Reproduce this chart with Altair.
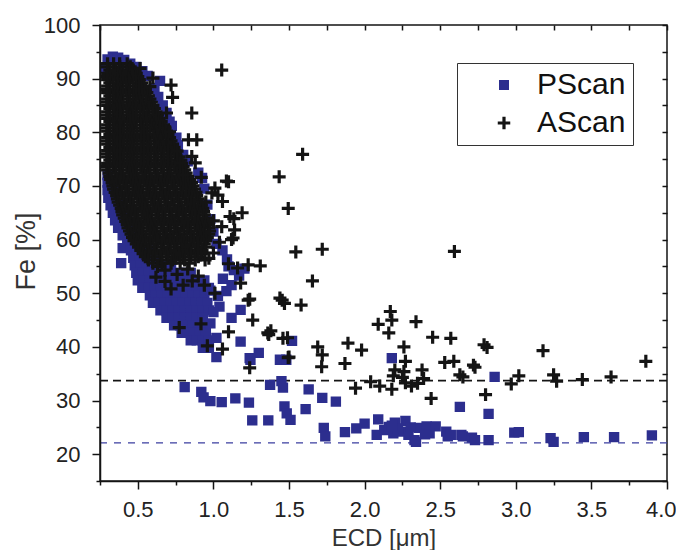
import altair as alt
import pandas as pd

BLUE = "#2c2e8e"
BLACK = "#141414"
FONT = "Liberation Sans"

series_names = ["PScan", "AScan"]

x_tick_values = [0.25, 0.5, 0.75, 1.0, 1.25, 1.5, 1.75, 2.0, 2.25, 2.5, 2.75, 3.0, 3.25, 3.5, 3.75, 4.0]
y_tick_values = [15, 20, 25, 30, 35, 40, 45, 50, 55, 60, 65, 70, 75, 80, 85, 90, 95, 100]

black_dash_level = [33.7]
blue_dash_level = [22.1]

# PScan dense band (Fe, [ECD...]) read row by row from the blue region
pscan_band_rows = [
    (72.0, [0.300]),
    (70.6, [0.300, 0.325]),
    (69.2, [0.300, 0.335]),
    (67.8, [0.305, 0.345]),
    (66.4, [0.32, 0.36, 0.39]),
    (65.0, [0.335, 0.375, 0.41]),
    (63.6, [0.35, 0.39, 0.43]),
    (62.2, [0.37, 0.41, 0.45]),
    (60.8, [0.40, 0.44, 0.48]),
    (59.4, [0.43, 0.47, 0.51]),
    (58.4, [0.40]),
    (58.0, [0.455, 0.495, 0.535, 0.575]),
    (56.6, [0.47, 0.51, 0.55, 0.59, 0.63]),
    (55.6, [0.39]),
    (55.2, [0.48, 0.52, 0.56, 0.60, 0.64, 0.68, 0.72]),
    (53.8, [0.49, 0.53, 0.57, 0.61, 0.65, 0.69, 0.73, 0.77, 0.81, 0.85]),
    (52.4, [0.50, 0.54, 0.58, 0.62, 0.66, 0.70, 0.74, 0.78, 0.82, 0.86, 0.90, 0.94]),
    (51.0, [0.53, 0.57, 0.61, 0.65, 0.69, 0.73, 0.77, 0.81, 0.85, 0.89, 0.93, 0.97]),
    (49.6, [0.58, 0.62, 0.66, 0.70, 0.74, 0.78, 0.82, 0.86, 0.90, 0.94]),
    (48.2, [0.60, 0.64, 0.68, 0.72, 0.76, 0.80, 0.84, 0.88, 0.92, 0.96]),
    (46.8, [0.65, 0.69, 0.73, 0.77, 0.81, 0.85, 0.89, 0.93, 0.97]),
    (45.4, [0.69, 0.73, 0.77, 0.81, 0.85, 0.89, 0.93]),
    (44.0, [0.74, 0.78, 0.82, 0.86, 0.90, 0.94]),
    (42.6, [0.79, 0.83, 0.87, 0.91, 0.95]),
    (41.2, [0.85, 0.89, 0.93, 0.97]),
    (39.8, [0.93, 0.97]),
]

# PScan individual squares (ECD, Fe)
pscan_points = [
    (0.30, 93.6), (0.335, 94.1), (0.37, 93.9), (0.41, 93.5), (0.45, 92.8), (0.49, 92.2),
    (0.29, 92.0),
    (0.53, 91.4), (0.565, 90.5), (0.647, 89.6), (0.61, 88.3), (0.635, 86.6), (0.665, 85.0),
    (0.69, 83.6), (0.71, 82.0), (0.725, 81.2), (0.755, 79.0), (0.765, 77.6), (0.80, 75.8),
    (0.83, 74.6), (0.90, 72.5), (0.925, 71.5), (0.94, 69.5), (0.96, 66.5), (0.98, 63.8),
    (1.0, 61.5), (1.02, 59.2), (1.06, 58.0), (1.09, 56.3), (1.10, 55.0), (1.135, 54.3),
    (1.205, 54.6), (1.17, 53.3), (1.063, 52.7), (1.12, 51.5), (1.086, 50.4), (1.04, 47.5),
    (1.12, 45.4), (1.18, 46.9), (0.98, 44.4), (1.02, 41.7), (1.18, 41.0), (1.30, 38.9),
    (1.24, 37.9), (1.44, 37.6), (1.52, 41.1), (1.02, 38.1), (1.00, 46.5), (1.03, 49.5),
    (0.98, 50.5),
    (0.81, 32.5), (0.92, 31.6), (0.935, 30.6), (0.98, 29.9), (1.055, 29.7), (1.145, 30.4),
    (1.235, 29.6), (1.257, 26.3), (1.363, 26.3), (1.375, 32.9), (1.45, 33.6), (1.46, 32.4),
    (1.47, 28.9), (1.485, 27.6), (1.51, 26.4), (1.61, 28.4), (1.63, 32.1), (1.72, 30.5),
    (1.81, 29.8), (1.482, 37.6), (1.245, 37.6), (2.18, 37.9), (2.86, 34.4), (2.82, 27.5),
    (2.63, 28.8),
    (1.73, 24.9), (1.74, 23.3), (1.87, 24.1), (1.945, 24.8), (2.0, 25.7), (2.09, 26.5),
    (2.08, 23.6), (2.13, 24.5), (2.16, 25.1), (2.20, 25.9), (2.27, 26.2), (2.24, 24.2),
    (2.19, 23.9), (2.29, 23.6), (2.33, 22.6), (2.34, 22.3), (2.36, 24.9), (2.41, 25.2),
    (2.47, 25.2), (2.43, 23.9), (2.40, 23.7), (2.54, 24.2), (2.55, 23.3), (2.57, 23.6),
    (2.64, 23.6), (2.65, 23.3), (2.71, 23.1), (2.73, 22.6), (2.82, 22.6), (2.99, 24.0),
    (3.02, 24.1), (3.23, 23.0), (3.25, 22.3), (3.45, 23.2), (3.65, 23.2), (3.90, 23.5),
    (2.22, 24.8), (2.305, 25.0), (2.18, 25.3),
]

# AScan dense cloud (Fe, [ECD...]) read row by row from the black region
ascan_cloud_rows = [
    (92.8, [0.30, 0.34, 0.38, 0.43]),
    (92.2, [0.30, 0.38, 0.45]),
    (91.6, [0.315, 0.355, 0.40, 0.44, 0.47]),
    (91.0, [0.30, 0.37, 0.43, 0.49]),
    (90.4, [0.295, 0.335, 0.38, 0.42, 0.465, 0.50]),
    (89.8, [0.30, 0.37, 0.44, 0.51]),
    (89.2, [0.315, 0.36, 0.40, 0.445, 0.49, 0.525]),
    (88.6, [0.30, 0.37, 0.44, 0.51, 0.54]),
    (88.0, [0.295, 0.34, 0.38, 0.425, 0.47, 0.51, 0.55]),
    (87.4, [0.30, 0.37, 0.44, 0.51, 0.56]),
    (86.8, [0.315, 0.36, 0.40, 0.445, 0.49, 0.53, 0.57]),
    (86.2, [0.30, 0.37, 0.44, 0.51, 0.58]),
    (85.6, [0.295, 0.34, 0.385, 0.43, 0.47, 0.515, 0.555, 0.59]),
    (85.0, [0.30, 0.375, 0.45, 0.525, 0.60]),
    (84.4, [0.315, 0.36, 0.40, 0.445, 0.49, 0.535, 0.575, 0.61]),
    (83.8, [0.30, 0.38, 0.46, 0.54, 0.62]),
    (83.2, [0.295, 0.34, 0.385, 0.43, 0.47, 0.515, 0.56, 0.60, 0.63]),
    (82.6, [0.30, 0.385, 0.47, 0.555, 0.64]),
    (82.0, [0.315, 0.36, 0.405, 0.45, 0.49, 0.535, 0.58, 0.62, 0.655]),
    (81.4, [0.30, 0.375, 0.45, 0.52, 0.595, 0.67]),
    (80.8, [0.295, 0.34, 0.385, 0.43, 0.475, 0.52, 0.56, 0.605, 0.645, 0.68]),
    (80.2, [0.30, 0.38, 0.46, 0.54, 0.62, 0.69]),
    (79.6, [0.315, 0.36, 0.405, 0.45, 0.495, 0.54, 0.58, 0.625, 0.665, 0.70]),
    (79.0, [0.30, 0.38, 0.46, 0.54, 0.63, 0.71]),
    (78.4, [0.295, 0.34, 0.385, 0.43, 0.475, 0.52, 0.565, 0.61, 0.65, 0.69, 0.72]),
    (77.8, [0.30, 0.38, 0.46, 0.54, 0.62, 0.70, 0.73]),
    (77.2, [0.315, 0.36, 0.405, 0.45, 0.495, 0.54, 0.585, 0.63, 0.67, 0.71, 0.74]),
    (76.6, [0.30, 0.38, 0.46, 0.54, 0.62, 0.70, 0.745]),
    (76.0, [0.295, 0.34, 0.385, 0.43, 0.475, 0.52, 0.565, 0.61, 0.655, 0.70, 0.75]),
    (75.4, [0.30, 0.38, 0.46, 0.54, 0.62, 0.70, 0.77]),
    (74.8, [0.315, 0.36, 0.405, 0.45, 0.495, 0.54, 0.585, 0.63, 0.675, 0.72, 0.76, 0.785]),
    (74.2, [0.30, 0.38, 0.46, 0.54, 0.62, 0.70, 0.76, 0.79]),
    (73.6, [0.295, 0.34, 0.385, 0.43, 0.475, 0.52, 0.565, 0.61, 0.655, 0.70, 0.745, 0.80]),
    (73.0, [0.30, 0.38, 0.46, 0.54, 0.62, 0.70, 0.77, 0.81]),
    (72.4, [0.31, 0.355, 0.40, 0.445, 0.49, 0.535, 0.58, 0.625, 0.67, 0.715, 0.76, 0.82]),
    (71.8, [0.315, 0.39, 0.47, 0.55, 0.63, 0.71, 0.78, 0.83]),
    (71.2, [0.32, 0.365, 0.41, 0.455, 0.50, 0.545, 0.59, 0.635, 0.68, 0.725, 0.77, 0.81, 0.845]),
    (70.6, [0.33, 0.41, 0.49, 0.57, 0.65, 0.73, 0.80, 0.855]),
    (70.0, [0.335, 0.38, 0.425, 0.47, 0.515, 0.56, 0.605, 0.65, 0.695, 0.74, 0.785, 0.83, 0.865]),
    (69.4, [0.34, 0.42, 0.50, 0.58, 0.66, 0.74, 0.82, 0.875]),
    (68.8, [0.35, 0.395, 0.44, 0.485, 0.53, 0.575, 0.62, 0.665, 0.71, 0.755, 0.80, 0.845, 0.885]),
    (68.2, [0.36, 0.44, 0.52, 0.60, 0.68, 0.76, 0.84, 0.89]),
    (67.6, [0.365, 0.41, 0.455, 0.50, 0.545, 0.59, 0.635, 0.68, 0.725, 0.77, 0.815, 0.86, 0.90]),
    (67.0, [0.37, 0.45, 0.53, 0.61, 0.69, 0.77, 0.85, 0.91]),
    (66.4, [0.38, 0.425, 0.47, 0.515, 0.56, 0.605, 0.65, 0.695, 0.74, 0.785, 0.83, 0.875, 0.92]),
    (65.8, [0.39, 0.47, 0.55, 0.63, 0.71, 0.79, 0.87, 0.93]),
    (65.2, [0.395, 0.44, 0.485, 0.53, 0.575, 0.62, 0.665, 0.71, 0.755, 0.80, 0.845, 0.89, 0.935]),
    (64.6, [0.40, 0.48, 0.56, 0.64, 0.72, 0.80, 0.88, 0.94]),
    (64.0, [0.41, 0.455, 0.50, 0.545, 0.59, 0.635, 0.68, 0.725, 0.77, 0.815, 0.86, 0.905, 0.95]),
    (63.4, [0.42, 0.50, 0.58, 0.66, 0.74, 0.82, 0.90, 0.955]),
    (62.8, [0.43, 0.475, 0.52, 0.565, 0.61, 0.655, 0.70, 0.745, 0.79, 0.835, 0.88, 0.925, 0.965]),
    (62.2, [0.435, 0.51, 0.59, 0.67, 0.75, 0.83, 0.91, 0.97]),
    (61.6, [0.445, 0.49, 0.535, 0.58, 0.625, 0.67, 0.715, 0.76, 0.805, 0.85, 0.895, 0.94, 0.975]),
    (61.0, [0.455, 0.53, 0.61, 0.69, 0.77, 0.85, 0.93, 0.97]),
    (60.4, [0.465, 0.51, 0.555, 0.60, 0.645, 0.69, 0.735, 0.78, 0.825, 0.87, 0.915, 0.96]),
    (59.8, [0.475, 0.55, 0.63, 0.71, 0.79, 0.87, 0.95]),
    (59.2, [0.49, 0.535, 0.58, 0.625, 0.67, 0.715, 0.76, 0.805, 0.85, 0.895, 0.94]),
    (58.6, [0.505, 0.58, 0.66, 0.74, 0.82, 0.90, 0.95]),
    (58.0, [0.52, 0.565, 0.61, 0.655, 0.70, 0.745, 0.79, 0.835, 0.88, 0.925]),
    (57.4, [0.535, 0.61, 0.69, 0.77, 0.85, 0.92]),
    (56.8, [0.55, 0.60, 0.65, 0.70, 0.75, 0.80, 0.85, 0.90]),
    (56.2, [0.57, 0.65, 0.73, 0.81, 0.88]),
    (55.6, [0.60, 0.66, 0.72, 0.78, 0.84]),
]

# AScan individual crosses (ECD, Fe)
ascan_points = [
    (0.515, 91.9), (0.60, 90.1), (0.58, 88.5), (0.72, 88.8), (0.73, 86.5), (0.857, 83.6),
    (0.835, 78.6), (0.89, 78.6), (1.055, 91.6), (0.69, 83.6), (0.71, 80.1), (0.78, 74.3),
    (0.857, 75.5), (0.88, 74.3), (0.76, 76.5), (0.80, 72.0), (0.92, 71.6), (1.10, 70.8),
    (1.01, 69.6), (1.03, 68.3), (1.06, 67.1), (0.99, 68.7), (0.95, 67.0), (1.19, 65.0),
    (1.11, 64.3), (1.14, 61.8), (1.12, 60.0), (1.055, 62.4), (1.00, 63.5), (1.04, 59.5),
    (1.0, 57.5), (0.97, 56.5), (0.945, 56.2), (1.23, 55.3), (1.16, 54.7), (1.31, 55.1),
    (1.10, 55.5), (0.63, 55.0), (0.68, 54.3), (0.62, 53.0), (0.68, 52.2), (0.76, 53.5),
    (0.80, 51.5), (0.86, 52.3), (0.90, 53.2), (0.94, 51.5), (0.72, 50.8), (0.83, 54.5),
    (1.01, 50.0), (1.18, 51.9), (1.23, 48.7), (1.26, 45.0), (1.36, 42.6), (0.774, 43.6),
    (0.918, 44.3), (0.96, 40.2), (1.06, 39.6), (1.10, 42.8), (1.24, 36.1), (1.455, 48.7),
    (1.49, 41.7), (1.495, 38.0), (1.435, 71.7), (1.59, 75.9), (1.495, 65.8), (1.545, 57.7),
    (1.72, 58.2), (1.655, 52.3), (1.44, 49.1), (1.47, 48.1), (1.58, 47.8), (1.24, 48.9),
    (1.38, 43.0), (1.366, 42.3), (1.46, 41.6), (1.50, 38.1), (1.69, 40.0), (1.72, 38.5),
    (1.716, 36.3), (1.89, 40.7), (1.98, 39.4), (1.87, 36.9), (2.17, 46.6), (2.18, 45.0),
    (2.09, 44.2), (2.16, 42.6), (2.34, 44.7), (2.26, 40.0), (2.45, 41.8), (2.57, 41.6),
    (2.27, 37.3), (2.20, 35.7), (2.19, 34.6), (2.26, 35.4), (2.38, 35.7), (2.39, 34.1),
    (2.63, 34.8), (2.53, 37.1), (2.59, 37.3), (2.72, 36.6), (1.94, 32.3), (2.04, 33.5),
    (2.10, 32.7), (2.18, 32.1), (2.27, 33.3), (2.31, 32.7), (2.35, 33.2), (2.44, 30.4),
    (2.79, 40.4), (2.81, 39.9), (2.80, 31.1), (2.594, 57.8), (3.18, 39.3), (3.86, 37.3),
    (3.02, 34.6), (2.97, 33.1), (3.25, 34.8), (3.27, 33.6), (3.44, 33.9), (3.63, 34.4),
    (2.65, 34.4), (2.73, 36.2), (2.25, 34.3), (1.086, 70.9), (1.135, 63.9), (1.13, 60.3),
]

rows = []
for fe, xs in pscan_band_rows:
    for x in xs:
        rows.append(("PScan", x, fe))
for x, fe in pscan_points:
    rows.append(("PScan", x, fe))
for fe, xs in ascan_cloud_rows:
    for x in xs:
        rows.append(("AScan", x, fe))
for x, fe in ascan_points:
    rows.append(("AScan", x, fe))
df = pd.DataFrame(rows, columns=["series", "ecd", "fe"])

x_scale = alt.Scale(domain=[0.25, 4.0], nice=False, zero=False)
y_scale = alt.Scale(domain=[15, 100], nice=False, zero=False)

STROKE_W = 3.2
SQUARE_PATH = "M-1,-0.68H1M-1,-0.34H1M-1,0H1M-1,0.34H1M-1,0.68H1"
CROSS_PATH = "M-1.25,0H1.25M0,-1.25V1.25"

legend = alt.Legend(
    title=None, orient="none", legendX=357, legendY=38,
    strokeColor="#333333", fillColor="white", padding=7, rowPadding=8,
    symbolOffset=25, labelOffset=18, labelFont=FONT, labelFontSize=30,
    labelColor="#111111", symbolSize=100, symbolStrokeWidth=STROKE_W,
)

x_axis_main = alt.Axis(
    orient="bottom", values=x_tick_values, format=".1f",
    labelExpr="datum.value % 0.5 === 0 ? datum.label : ''",
    tickSize={"condition": {"test": "datum.value % 0.5 === 0", "value": 8}, "value": 4},
    labelFlush=True, labelFlushOffset=9, labelFontSize=22, labelPadding=10, grid=False,
    title="ECD [μm]", titleFontSize=24, titleY=64, titleBaseline="alphabetic", zindex=1,
)
y_axis_main = alt.Axis(
    orient="left", values=y_tick_values,
    labelExpr="datum.value % 10 === 0 ? datum.label : ''",
    tickSize={"condition": {"test": "datum.value % 10 === 0", "value": 8}, "value": 4},
    labelFontSize=22, labelPadding=12, grid=False,
    title="Fe [%]", titleFontSize=27, titleX=-66, titleY=226, titleAngle=270,
    titleAlign="center", titleBaseline="alphabetic", zindex=1,
)

points = alt.Chart(df).mark_point(filled=False, size=108, strokeWidth=STROKE_W, opacity=1).encode(
    x=alt.X("ecd:Q", scale=x_scale, axis=x_axis_main),
    y=alt.Y("fe:Q", scale=y_scale, axis=y_axis_main),
    color=alt.Color("series:N", scale=alt.Scale(domain=series_names, range=[BLUE, BLACK]), legend=legend),
    shape=alt.Shape("series:N", scale=alt.Scale(domain=series_names, range=[SQUARE_PATH, CROSS_PATH]), legend=legend),
)

mirror = alt.Chart(df).mark_point(opacity=0).encode(
    x=alt.X("ecd:Q", scale=x_scale, axis=alt.Axis(
        orient="top", values=x_tick_values, labels=False, domain=False, tickSize=5,
        offset=-5, grid=False, title=None)),
    y=alt.Y("fe:Q", scale=y_scale, axis=alt.Axis(
        orient="right", values=y_tick_values, labels=False, domain=False, tickSize=5,
        offset=-5, grid=False, title=None)),
)

rule_black = alt.Chart(pd.DataFrame({"fe": black_dash_level})).mark_rule(
    color=BLACK, strokeWidth=1.8, strokeDash=[8, 5]
).encode(y=alt.Y("fe:Q", scale=y_scale, axis=None))

rule_blue = alt.Chart(pd.DataFrame({"fe": blue_dash_level})).mark_rule(
    color="#3b3ea0", strokeWidth=1.3, strokeDash=[7, 7]
).encode(y=alt.Y("fe:Q", scale=y_scale, axis=None))

chart = alt.layer(mirror, rule_black, rule_blue, points).resolve_axis(
    x="independent", y="independent"
).properties(
    width=567, height=456,
    autosize=alt.AutoSizeParams(type="none"),
    padding={"left": 92, "top": 17, "right": 9, "bottom": 69},
).configure_view(
    stroke=BLACK, strokeWidth=1.5
).configure_axis(
    labelFont=FONT, titleFont=FONT, domainColor=BLACK, tickColor=BLACK,
    domainWidth=1.5, tickWidth=1.5, labelColor="#222222", titleColor="#333333",
    titleFontWeight="normal",
)

chart.save("out.html", embed_options={"renderer": "svg", "actions": False})
